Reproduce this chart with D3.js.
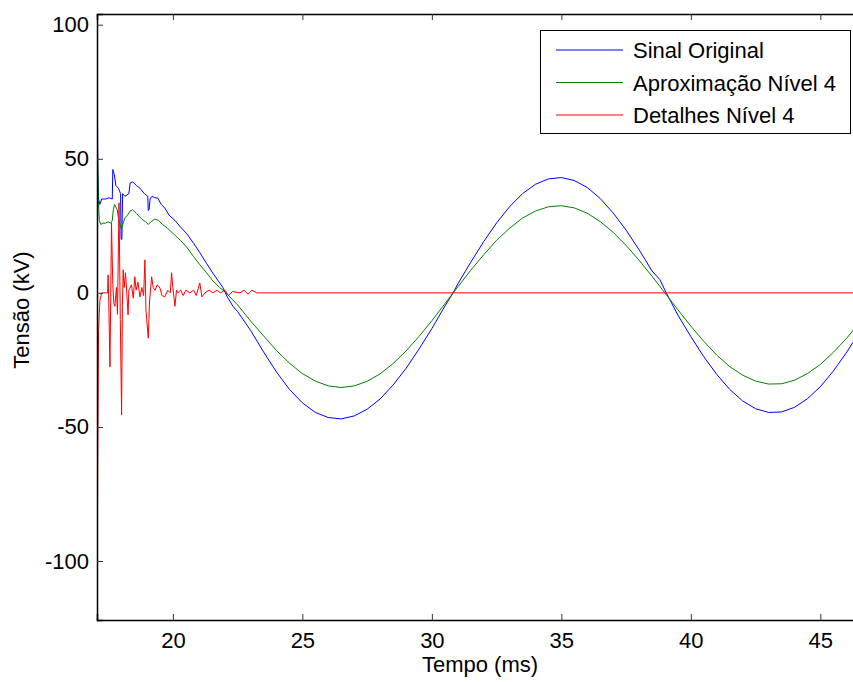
<!DOCTYPE html>
<html><head><meta charset="utf-8">
<script src="https://cdn.jsdelivr.net/npm/d3@7"></script>
<style>
body{margin:0;background:#fff;}
text{font-family:"Liberation Sans",Arial,sans-serif;fill:#000;}
</style></head>
<body>
<svg id="chart" width="853" height="682"></svg>
<script>
// Series: [tempo (ms), tensão (kV)]
const sinalOriginal = [
[17.07,103],[17.10,45],[17.13,35],[17.18,33],[17.25,35],[17.40,35],[17.55,35.5],[17.66,35],
[17.68,46],[17.74,44],[17.80,40],[17.90,39],[17.98,37],[18.00,20],[18.03,20],[18.06,37],
[18.15,36],[18.30,37],[18.35,41],[18.45,41.4],[18.60,40],[18.73,39],[18.90,37],[19.03,36],
[19.05,30.7],[19.08,31],[19.12,35],[19.19,36],[19.30,35.5],[19.42,35.3],[19.55,33],[19.69,31.6],
[19.85,29],[20.08,27],[20.30,24.5],[20.54,22],[20.80,18.5],[21.04,15],[21.30,11],[21.54,7.4],
[21.75,4.5],[21.93,2],[22.10,-1.5],[22.32,-5],[22.5,-7],[23.0,-14],[23.5,-22],[24.0,-29.5],
[24.5,-36],[25.0,-41],[25.5,-44.6],[26.0,-46.5],[26.5,-47],[27.0,-45.9],[27.5,-43.4],[28.0,-39.6],
[28.5,-34.4],[29.0,-28.2],[29.5,-21],[30.0,-13.3],[30.5,-5],[30.82,0],[31.0,3.3],[31.5,11.4],
[32.0,19.1],[32.5,26.1],[33.0,32.1],[33.5,37],[34.0,40.5],[34.5,42.5],[35.0,43],[35.5,41.9],
[36.0,39.3],[36.5,35.2],[37.0,29.8],[37.5,23.4],[38.0,16.1],[38.5,8.2],[38.8,5],[39.05,0],
[39.5,-8.3],[40.0,-16.3],[40.5,-23.8],[41.0,-30.4],[41.5,-36],[42.0,-40.3],[42.5,-43.2],[43.0,-44.6],
[43.5,-44.4],[44.0,-42.7],[44.5,-39.5],[45.0,-35],[45.5,-29.2],[46.0,-22.4],[46.5,-14.8]
];
const aproximacaoNivel4 = [
[17.07,75],[17.09,55],[17.12,35],[17.16,27],[17.22,25.5],[17.30,26],[17.40,26],[17.50,26.5],
[17.60,26],[17.66,27],[17.70,31],[17.75,33],[17.80,32],[17.85,31],[17.90,28],[17.97,25],
[18.02,24],[18.08,26],[18.15,28],[18.25,29],[18.35,30.5],[18.44,31],[18.60,29.5],[18.80,27.5],
[18.95,26.5],[19.05,25.5],[19.15,26.5],[19.30,27.5],[19.45,27],[19.60,25.5],[19.80,24],[20.08,21.5],
[20.30,19.5],[20.54,17],[20.80,13.5],[21.04,10.5],[21.30,7.5],[21.54,4.5],[21.80,2],[22.0,0.5],
[22.2,-1.5],[22.5,-4.5],[23.0,-10.5],[23.5,-16],[24.0,-21.5],[24.5,-26.2],[25.0,-30.1],[25.5,-32.9],
[26.0,-34.7],[26.5,-35.3],[27.0,-34.7],[27.5,-33],[28.0,-30.2],[28.5,-26.4],[29.0,-21.7],[29.5,-16.3],
[30.0,-10.4],[30.5,-4.1],[30.82,0],[31.0,2.2],[31.5,8.4],[32.0,14.2],[32.5,19.6],[33.0,24.1],
[33.5,27.9],[34.0,30.5],[34.5,32.1],[35.0,32.5],[35.5,31.7],[36.0,29.7],[36.5,26.6],[37.0,22.6],
[37.5,17.7],[38.0,12.2],[38.5,6.2],[39.0,0],[39.5,-6.3],[40.0,-12.4],[40.5,-18.1],[41.0,-23.2],
[41.5,-27.5],[42.0,-30.7],[42.5,-32.9],[43.0,-34],[43.5,-33.9],[44.0,-32.6],[44.5,-30.1],[45.0,-26.7],
[45.5,-22.2],[46.0,-17.1],[46.5,-11.3]
];
const detalhesNivel4 = [
[17.07,-122],[17.10,-60],[17.13,-14],[17.18,-3],[17.25,0],[17.48,0],[17.50,6.7],[17.53,-6],
[17.57,-27.6],[17.60,-2],[17.63,26],[17.68,3],[17.72,-4],[17.76,-5],[17.82,2],[17.86,-8],
[17.92,33.6],[17.97,-10],[18.02,-45.5],[18.05,-5],[18.08,8.6],[18.12,2],[18.17,7.5],[18.22,0],
[18.27,-8.2],[18.30,1],[18.40,3],[18.47,-2],[18.53,6],[18.58,1],[18.65,4],[18.73,-1.5],
[18.80,2],[18.87,-1],[18.92,12.3],[18.96,-6.3],[19.05,-16.9],[19.10,-3],[19.18,6],[19.24,2],
[19.31,1],[19.40,3],[19.50,1.8],[19.58,-1],[19.69,-1.5],[19.80,1],[19.90,0],[19.95,7.5],
[20.00,2],[20.08,-5],[20.14,1],[20.19,0],[20.30,1],[20.40,-1],[20.50,1],[20.66,0],
[20.80,1],[20.90,-1],[21.04,3.7],[21.12,-1.5],[21.24,0],[21.40,1],[21.55,0],[21.70,1],
[21.85,0],[22.00,1],[22.15,-1],[22.30,0.5],[22.59,0],[22.75,1],[22.90,-0.5],[23.05,1],
[23.24,0],[46.5,0]
];
const xTicks = [20, 25, 30, 35, 40, 45];
const yTicks = [-100, -50, 0, 50, 100];
const seriesNames = ["Sinal Original", "Aproximação Nível 4", "Detalhes Nível 4"];
const seriesColors = ["#0000ff", "#008000", "#ff0000"];

const FS = "22px";
const svg = d3.select("#chart");
const L = 97, R = 854, T = 14, B = 620;
const x = d3.scaleLinear().domain([17.07, 46.3]).range([L, R]);
const y = d3.scaleLinear().domain([-122, 104]).range([B, T]);

svg.append("defs").append("clipPath").attr("id","clip")
  .append("rect").attr("x", L).attr("y", T).attr("width", R - L).attr("height", B - T);

const line = d3.line().x(d => x(d[0])).y(d => y(d[1]));
const data = [sinalOriginal, aproximacaoNivel4, detalhesNivel4];
const g = svg.append("g").attr("clip-path","url(#clip)");
[0,1,2].forEach(i => {
  g.append("path").datum(data[i]).attr("d", line)
    .attr("fill","none").attr("stroke", seriesColors[i]).attr("stroke-width", 1);
});

// axes
const fmt = d => String(d);
const axB = d3.axisBottom(x).tickValues(xTicks).tickSize(-6).tickPadding(12).tickFormat(fmt);
const axT = d3.axisTop(x).tickValues(xTicks).tickSize(-6).tickFormat("");
const axL = d3.axisLeft(y).tickValues(yTicks).tickSize(-6).tickPadding(8).tickFormat(fmt);
const gb = svg.append("g").attr("transform",`translate(0,${B})`).call(axB);
const gt = svg.append("g").attr("transform",`translate(0,${T})`).call(axT);
const gl = svg.append("g").attr("transform",`translate(${L},0)`).call(axL);
[gb,gt,gl].forEach(a => {
  a.select(".domain").attr("stroke","#000").attr("stroke-width",1.5);
  a.selectAll(".tick line").attr("stroke","#333").attr("stroke-width",1);
  a.selectAll("text").attr("font-size",FS).attr("font-family","Liberation Sans, Arial, sans-serif").attr("fill","#000");
});

svg.append("text").attr("x", 480).attr("y", 672).attr("text-anchor","middle")
  .attr("font-size",FS).text("Tempo (ms)");
svg.append("text").attr("transform","translate(29,310) rotate(-90)").attr("text-anchor","middle")
  .attr("font-size",FS).text("Tensão (kV)");

// legend
const lg = svg.append("g");
lg.append("rect").attr("x",540.5).attr("y",30.5).attr("width",310).attr("height",103)
  .attr("fill","#fff").attr("stroke","#000").attr("stroke-width",1);
seriesNames.forEach((n,i) => {
  const yy = 50 + i*32.5;
  lg.append("line").attr("x1",556).attr("x2",623).attr("y1",yy).attr("y2",yy)
    .attr("stroke",seriesColors[i]).attr("stroke-width",1);
  lg.append("text").attr("x",633).attr("y",yy+8).attr("font-size",FS).text(n);
});
</script>
</body></html>
